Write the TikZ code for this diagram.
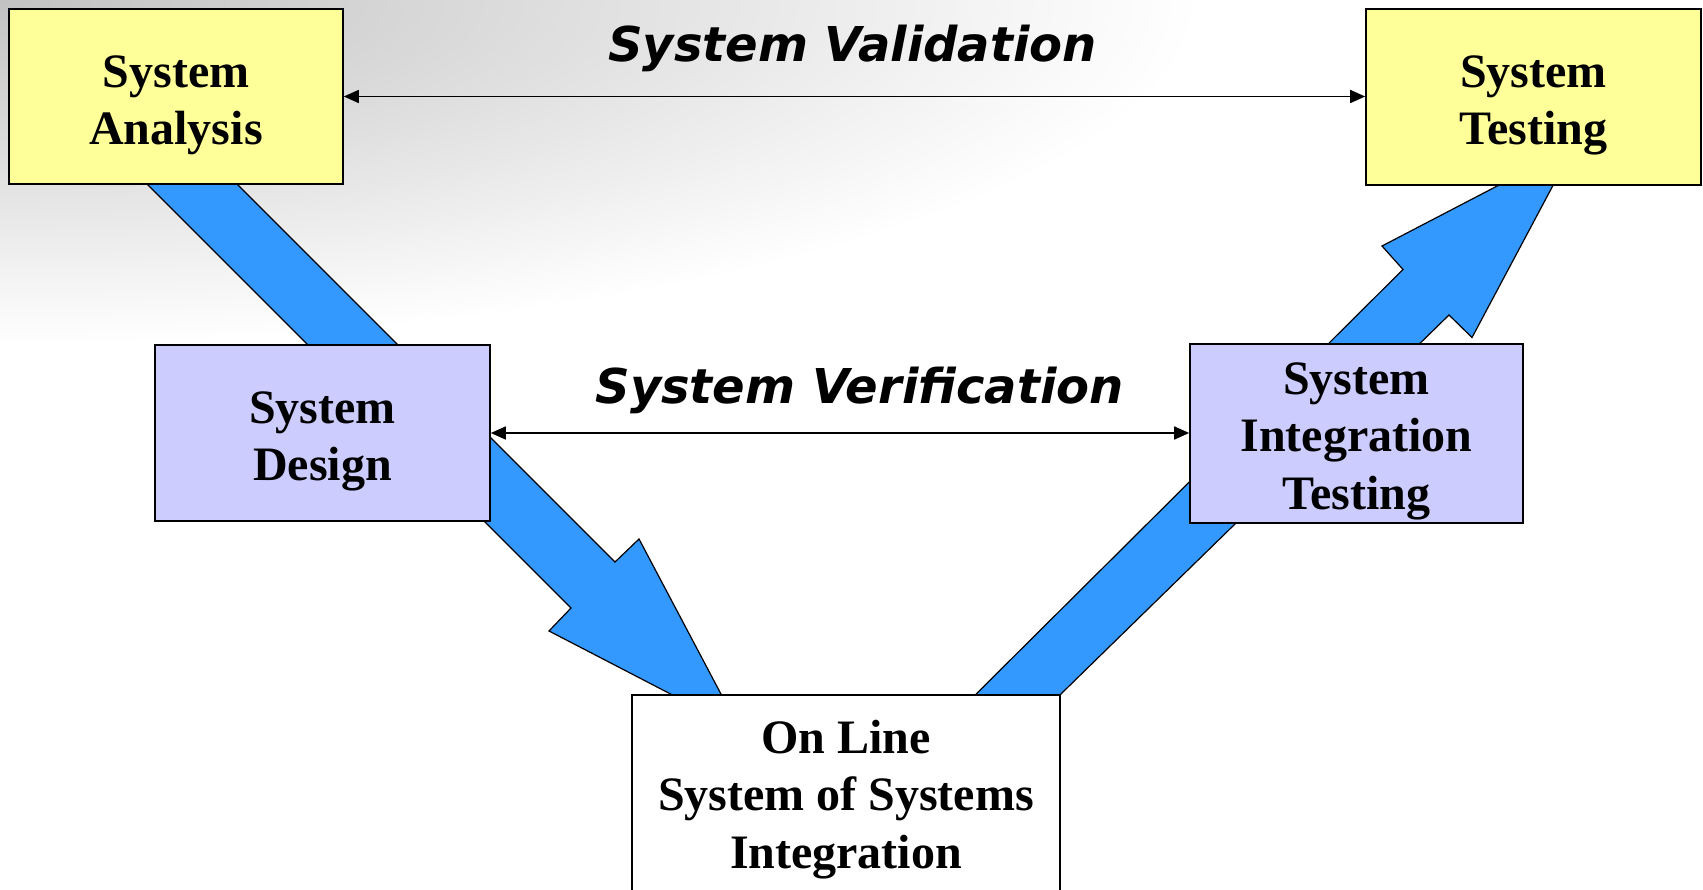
\documentclass[tikz,border=0pt]{standalone}
\usepackage{fontspec}
\usetikzlibrary{arrows.meta}
\newfontfamily\boxfont{Liberation Serif}
\newfontfamily\labfont{DejaVu Sans}
\definecolor{boxyellow}{HTML}{FFFF99}
\definecolor{boxlav}{HTML}{CCCCFF}
\definecolor{flowblue}{HTML}{3399FF}
\newcommand\firstgap[1]{\rule{0pt}{#1}}
\tikzset{
  stagebox/.style={draw=black, line width=1.6pt, inner sep=0pt, align=center,
    font=\boxfont\bfseries\fontsize{48}{57.5}\selectfont},
  bigflow/.style={fill=flowblue, draw=black, line width=1.2pt, line join=miter},
  relarrow/.style={{Triangle[length=15pt,width=13pt]}-{Triangle[length=15pt,width=13pt]}, line width=1.6pt},
  rellabel/.style={anchor=base, inner sep=0pt, font=\labfont\bfseries\itshape\fontsize{48}{54}\selectfont}
}
\begin{document}
\begin{tikzpicture}[x=1pt,y=-1pt]
\useasboundingbox (0,0) rectangle (1703,890);
\begin{scope}
  \clip (0,0) rectangle (1703,890);
  \fill[white] (0,0) rectangle (1703,890);
  \shade[inner color=gray!48, outer color=white] (-1200,-345) rectangle (1200,345);

  % blue flow arrows (drawn first, boxes cover their ends)
  \path[bigflow] (113,150) -- (571,608) -- (549,631) -- (740,730) -- (639,539) -- (615,562) -- (203,150) -- cycle;
  \path[bigflow] (950,720) -- (1403,269.5) -- (1382,246) -- (1574,146) -- (1472,337.5) -- (1449,315) -- (1021,733) -- cycle;

  % stage boxes
  \node[stagebox, fill=boxyellow, minimum width=334pt, minimum height=175pt] (SA) at (176,96.5) {\firstgap{49pt}System\\Analysis};
  \node[stagebox, fill=boxyellow, minimum width=335pt, minimum height=176pt] (ST) at (1533.5,97) {\firstgap{49pt}System\\Testing};
  \node[stagebox, fill=boxlav, minimum width=335pt, minimum height=176pt] (SD) at (322.5,433) {\firstgap{49pt}System\\Design};
  \node[stagebox, fill=boxlav, minimum width=333pt, minimum height=179pt] (SIT) at (1356.5,433.5) {\firstgap{47pt}System\\Integration\\Testing};
  \node[stagebox, fill=white, minimum width=428pt, minimum height=204pt] (OL) at (846,797) {\firstgap{38pt}On Line\\System of Systems\\Integration};

  % relations
  \draw[relarrow] (SA.east) -- (SA.east -| ST.west);
  \draw[relarrow] (SD.east) -- (SD.east -| SIT.west);
  \node[rellabel] (val) at (852.5,62) {System Validation};
  \node[rellabel] (ver) at (859.6,404) {System Verification};
\end{scope}
\end{tikzpicture}
\end{document}
